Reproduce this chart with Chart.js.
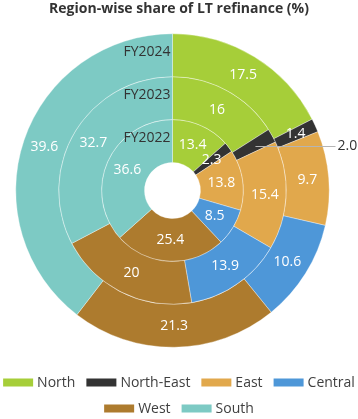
<!DOCTYPE html>
<html><head><meta charset="utf-8">
<script src="https://cdn.jsdelivr.net/npm/chart.js@4/dist/chart.umd.min.js"></script>
<style>html,body{margin:0;padding:0;background:#fff;}#wrap{width:358px;height:419px;position:relative;}canvas{display:block;}</style>
</head><body><div id="wrap"><canvas id="c" width="358" height="419" style="width:358px;height:419px"></canvas></div>
<script>
const categories = ['North', 'North-East', 'East', 'Central', 'West', 'South'];
const years = ['FY2024', 'FY2023', 'FY2022'];
const fy2024 = [17.5, 1.4, 9.7, 10.6, 21.3, 39.6];
const fy2023 = [16, 2.0, 15.4, 13.9, 20, 32.7];
const fy2022 = [13.4, 2.3, 13.8, 8.5, 25.4, 36.6];
const colors = ['#A6CE39', '#333333', '#E1A84C', '#4E97D8', '#AD7B2E', '#7DCAC4'];
// labels drawn outside the ring with a leader line: [dataset index, category index]
const outsideLabels = [[1, 1]];
const legendRows = [[0, 1, 2, 3], [4, 5]];

const FONT = '"Open Sans", "Noto Sans", sans-serif';

const ringPlugin = {
  id: 'ringPlugin',
  afterLayout(chart) {
    const ca = chart.chartArea;
    ca.left = 15.5; ca.right = 329.5; ca.top = 33.5; ca.bottom = 347.5;
    ca.width = ca.right - ca.left; ca.height = ca.bottom - ca.top;
  },
  afterDatasetsDraw(chart) {
    const ctx = chart.ctx;
    const ca = chart.chartArea;
    ctx.save();
    ctx.font = '14px ' + FONT;
    ctx.textBaseline = 'middle';
    chart.data.datasets.forEach((ds, di) => {
      const meta = chart.getDatasetMeta(di);
      meta.data.forEach((arc, i) => {
        const p = arc.getCenterPoint();
        const outside = outsideLabels.some(o => o[0] === di && o[1] === i);
        if (outside) {
          const y = Math.round(p.y) + 0.5;
          ctx.strokeStyle = '#b5b5b5';
          ctx.lineWidth = 1;
          ctx.beginPath(); ctx.moveTo(p.x + 2, y); ctx.lineTo(ca.right + 6, y); ctx.stroke();
          ctx.fillStyle = '#333';
          ctx.textAlign = 'left';
          ctx.fillText(ds.data[i].toFixed(1), ca.right + 8, p.y);
        } else {
          ctx.fillStyle = '#ffffff';
          ctx.textAlign = 'center';
          ctx.fillText(String(ds.data[i]), p.x, p.y);
        }
      });
      const a0 = meta.data[0].getProps(['x', 'y', 'innerRadius', 'outerRadius'], true);
      const midR = (a0.innerRadius + a0.outerRadius) / 2;
      ctx.fillStyle = '#333';
      ctx.textAlign = 'right';
      ctx.fillText(ds.label, a0.x - 2, a0.y - midR - 3.5);
    });
    ctx.restore();
  },
  afterDraw(chart) {
    const ctx = chart.ctx;
    ctx.save();
    ctx.font = '14px ' + FONT;
    ctx.textBaseline = 'middle';
    ctx.textAlign = 'left';
    const boxW = 30, boxH = 8, gap = 4, itemGap = 11;
    const rowY = [382.5, 408.5];
    const cx = chart.width / 2;
    legendRows.forEach((row, r) => {
      const widths = row.map(i => boxW + gap + ctx.measureText(categories[i]).width);
      const total = widths.reduce((a, b) => a + b, 0) + itemGap * (row.length - 1);
      let x = cx - total / 2;
      row.forEach((i, k) => {
        ctx.fillStyle = colors[i];
        ctx.fillRect(x, rowY[r] - boxH / 2, boxW, boxH);
        ctx.fillStyle = '#404040';
        ctx.fillText(categories[i], x + boxW + gap, rowY[r] + 0.5);
        x += widths[k] + itemGap;
      });
    });
    ctx.restore();
  }
};

const datasetsData = [fy2024, fy2023, fy2022];

new Chart(document.getElementById('c'), {
  type: 'doughnut',
  data: {
    labels: categories,
    datasets: datasetsData.map((d, k) => ({
      label: years[k],
      data: d,
      backgroundColor: colors,
      borderColor: 'rgba(255,255,255,0.7)',
      borderWidth: 0.5,
      hoverOffset: 0,
      clip: false
    }))
  },
  options: {
    responsive: false,
    maintainAspectRatio: false,
    devicePixelRatio: 1,
    animation: false,
    cutout: 28,
    layout: { padding: 0 },
    plugins: {
      legend: { display: false },
      tooltip: { enabled: false },
      title: {
        display: true,
        text: 'Region-wise share of LT refinance (%)',
        color: '#333',
        font: { family: FONT, size: 14, weight: 'bold' },
        padding: { top: 1, bottom: 10 }
      }
    }
  },
  plugins: [ringPlugin]
});
</script>
</body></html>
